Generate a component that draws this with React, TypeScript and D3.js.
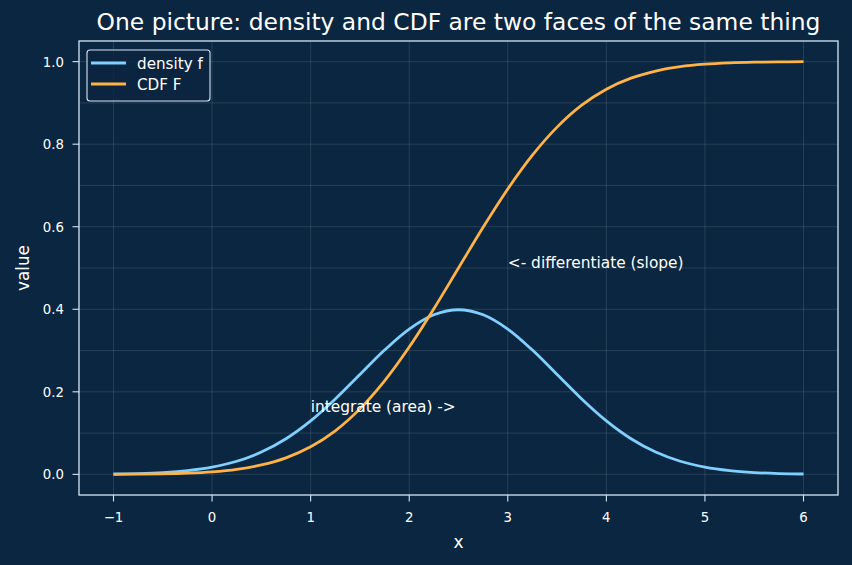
import React from "react";
import * as d3 from "d3";

const xs = [-1, -0.75, -0.5, -0.25, 0, 0.25, 0.5, 0.75, 1, 1.25, 1.5, 1.75, 2, 2.25, 2.5, 2.75, 3, 3.25, 3.5, 3.75, 4, 4.25, 4.5, 4.75, 5, 5.25, 5.5, 5.75, 6];
const density = [0.0009, 0.002, 0.0044, 0.0091, 0.0175, 0.0317, 0.054, 0.0863, 0.1295, 0.1826, 0.242, 0.3011, 0.3521, 0.3867, 0.3989, 0.3867, 0.3521, 0.3011, 0.242, 0.1826, 0.1295, 0.0863, 0.054, 0.0317, 0.0175, 0.0091, 0.0044, 0.002, 0.0009];
const cdf = [0.0002, 0.0006, 0.0013, 0.003, 0.0062, 0.0122, 0.0228, 0.0401, 0.0668, 0.1056, 0.1587, 0.2266, 0.3085, 0.4013, 0.5, 0.5987, 0.6915, 0.7734, 0.8413, 0.8944, 0.9332, 0.9599, 0.9772, 0.9878, 0.9938, 0.997, 0.9987, 0.9994, 0.9998];
const xTicks = [-1, 0, 1, 2, 3, 4, 5, 6];
const yTicks = [0, 0.2, 0.4, 0.6, 0.8, 1.0];
const xGrid = [-1, 0, 1, 2, 3, 4, 5, 6];
const yGrid = [0, 0.1, 0.2, 0.3, 0.4, 0.5, 0.6, 0.7, 0.8, 0.9, 1.0];

const W = 852, H = 565;
const L = 79, R = 838, T = 41, B = 495;
const BG = "#0b2640";
const FG = "#d6e6f5";
const BLUE = "#80d0ff";
const ORANGE = "#ffb347";
const FONT = "'DejaVu Sans', sans-serif";

export default function App() {
  const x = d3.scaleLinear().domain([-1.35, 6.35]).range([L, R]);
  const y = d3.scaleLinear().domain([-0.05, 1.05]).range([B, T]);
  const line = (vals: number[]) =>
    d3.line<number>().x((_, i) => x(xs[i])).y((v) => y(v)).curve(d3.curveCatmullRom.alpha(0.5))(vals) || "";

  return (
    <svg width={W} height={H} style={{ position: "absolute", left: 0, top: 0, background: BG }}>
      <rect x={0} y={0} width={W} height={H} fill={BG} />
      <text x={(L + R) / 2} y={30} textAnchor="middle" fill="#ffffff" fontFamily={FONT} fontSize={23.4}>
        One picture: density and CDF are two faces of the same thing
      </text>
      <g>
        {xGrid.map((t) => (
          <line key={"gx" + t} x1={x(t)} x2={x(t)} y1={T} y2={B} stroke="#ffffff" strokeOpacity={0.15} strokeWidth={0.8} />
        ))}
        {yGrid.map((t) => (
          <line key={"gy" + t} x1={L} x2={R} y1={y(t)} y2={y(t)} stroke="#ffffff" strokeOpacity={0.15} strokeWidth={0.8} />
        ))}
      </g>
      <path d={line(density)} fill="none" stroke={BLUE} strokeWidth={2.8} />
      <path d={line(cdf)} fill="none" stroke={ORANGE} strokeWidth={2.8} />
      <text x={x(1)} y={y(0.15)} fill="#ffffff" fontFamily={FONT} fontSize={15.4}>integrate (area) -&gt;</text>
      <text x={x(3)} y={y(0.5)} fill="#ffffff" fontFamily={FONT} fontSize={15.4}>&lt;- differentiate (slope)</text>
      <rect x={L} y={T} width={R - L} height={B - T} fill="none" stroke={FG} strokeWidth={1.3} />
      {xTicks.map((t) => (
        <g key={"xt" + t}>
          <line x1={x(t)} x2={x(t)} y1={B} y2={B + 6.5} stroke={FG} strokeWidth={1.1} />
          <text x={x(t)} y={B + 27} textAnchor="middle" fill="#ffffff" fontFamily={FONT} fontSize={13.3}>
            {t < 0 ? "\u2212" + Math.abs(t) : String(t)}
          </text>
        </g>
      ))}
      {yTicks.map((t) => (
        <g key={"yt" + t}>
          <line x1={L - 6.5} x2={L} y1={y(t)} y2={y(t)} stroke={FG} strokeWidth={1.1} />
          <text x={L - 15} y={y(t) + 5} textAnchor="end" fill="#ffffff" fontFamily={FONT} fontSize={13.3}>
            {t.toFixed(1)}
          </text>
        </g>
      ))}
      <text x={(L + R) / 2} y={548} textAnchor="middle" fill="#ffffff" fontFamily={FONT} fontSize={17}>x</text>
      <text transform={`translate(29,${(T + B) / 2}) rotate(-90)`} textAnchor="middle" fill="#ffffff" fontFamily={FONT} fontSize={16.8}>value</text>
      <g>
        <rect x={87} y={50} width={123} height={51} rx={3} fill={BG} fillOpacity={0.8} stroke={FG} strokeWidth={1.1} />
        <line x1={91} x2={126} y1={63} y2={63} stroke={BLUE} strokeWidth={2.8} />
        <line x1={91} x2={126} y1={84} y2={84} stroke={ORANGE} strokeWidth={2.8} />
        <text x={137} y={68.5} fill="#ffffff" fontFamily={FONT} fontSize={15.2}>density f</text>
        <text x={137} y={89.5} fill="#ffffff" fontFamily={FONT} fontSize={15.2}>CDF F</text>
      </g>
    </svg>
  );
}
